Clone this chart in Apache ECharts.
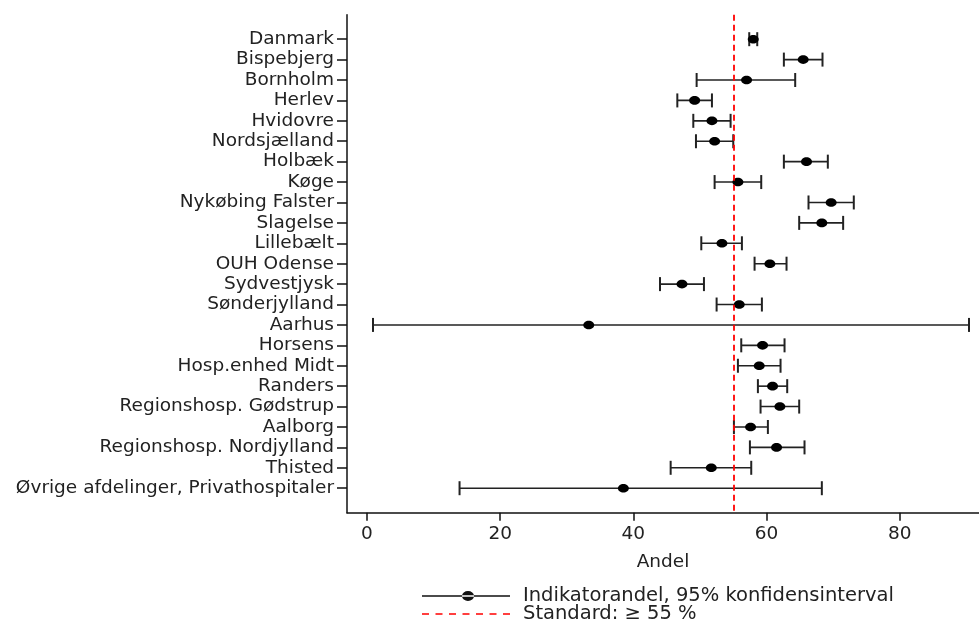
<!DOCTYPE html>
<html>
<head>
<meta charset="utf-8">
<script src="https://cdn.jsdelivr.net/npm/echarts@6/dist/echarts.min.js"></script>
<style>html,body{margin:0;padding:0;background:#fff}#c{width:979px;height:623px}</style>
</head>
<body>
<div id="c"></div>
<script>
const categories = ["Danmark","Bispebjerg","Bornholm","Herlev","Hvidovre","Nordsjælland","Holbæk","Køge","Nykøbing Falster","Slagelse","Lillebælt","OUH Odense","Sydvestjysk","Sønderjylland","Aarhus","Horsens","Hosp.enhed Midt","Randers","Regionshosp. Gødstrup","Aalborg","Regionshosp. Nordjylland","Thisted","Øvrige afdelinger, Privathospitaler"];
const shares = [58.0,65.5,57.0,49.2,51.8,52.2,66.0,55.7,69.7,68.3,53.3,60.5,47.3,55.9,33.3,59.4,58.9,60.9,62.0,57.6,61.5,51.7,38.5];
const lower  = [57.4,62.6,49.5,46.6,49.0,49.4,62.6,52.2,66.3,64.9,50.2,58.2,44.0,52.5,0.9,56.2,55.7,58.7,59.1,55.1,57.5,45.6,13.9];
const upper  = [58.6,68.4,64.3,51.8,54.6,55.0,69.2,59.2,73.1,71.5,56.3,63.0,50.6,59.3,90.4,62.7,62.1,63.1,64.9,60.2,65.7,57.7,68.3];
const standard = 55;
const xTicks = [0,20,40,60,80];
const seriesName = "Indikatorandel, 95% konfidensinterval";
const standardName = "Standard: ≥ 55 %";

const data = categories.map((c,i)=>[i, lower[i], shares[i], upper[i]]);
const idx = categories.map((c,i)=>i);

const chart = echarts.init(document.getElementById('c'), null, {renderer:'canvas'});
const FONT = 'DejaVu Sans';
const legendText = {fontSize:19.5, color:'#222', padding:[0,0,0,8], fontFamily:FONT};
chart.setOption({
  animation:false,
  textStyle:{fontFamily:FONT},
  grid:{left:347, right:0, top:14.7, bottom:110.3, containLabel:false, outerBoundsMode:'none'},
  xAxis:{
    type:'value', min:-3, max:91.9,
    axisLine:{show:true, onZero:false, lineStyle:{color:'#111', width:1.5}},
    axisTick:{show:true, length:8, lineStyle:{color:'#111', width:1.5}, customValues:xTicks},
    axisLabel:{customValues:xTicks, color:'#222', fontSize:18.5, margin:12, fontFamily:FONT},
    splitLine:{show:false},
    name:'Andel', nameLocation:'middle', nameGap:40,
    nameTextStyle:{fontSize:18.5, color:'#222', fontFamily:FONT}
  },
  yAxis:{
    type:'value', inverse:true, min:-1.2, max:23.2,
    axisLine:{show:true, onZero:false, lineStyle:{color:'#111', width:1.5}},
    axisTick:{show:true, length:10, lineStyle:{color:'#111', width:1.5}, customValues:idx},
    axisLabel:{customValues:idx, formatter:v=>categories[Math.round(v)], color:'#222', fontSize:18.5, margin:13, fontFamily:FONT},
    splitLine:{show:false}
  },
  legend:[
    {
      left:422, top:586, itemWidth:88, itemHeight:10, padding:0,
      textStyle:legendText, selectedMode:false,
      data:[{name:seriesName, icon:'path://M0,4.3L88,4.3L88,5.7L0,5.7Z M40,5A6,5 0 1,0 52,5A6,5 0 1,0 40,5Z', itemStyle:{color:'#111'}}]
    },
    {
      left:422, top:604, itemWidth:88, itemHeight:1.6, padding:0,
      textStyle:legendText, selectedMode:false,
      data:[{name:standardName, icon:'path://M0,0h7v1.6h-7Z M13.5,0h7v1.6h-7Z M27,0h7v1.6h-7Z M40.5,0h7v1.6h-7Z M54,0h7v1.6h-7Z M67.5,0h7v1.6h-7Z M81,0h7v1.6h-7Z', itemStyle:{color:'#ff0000'}}]
    }
  ],
  series:[
    {
      name:seriesName, type:'custom', data:data,
      encode:{x:[1,2,3], y:0},
      itemStyle:{color:'#111'},
      renderItem:(params, api)=>{
        const y = api.value(0);
        const a = api.coord([api.value(1), y]);
        const p = api.coord([api.value(2), y]);
        const b = api.coord([api.value(3), y]);
        const h = 7;
        const ls = {stroke:'#222', lineWidth:1.6};
        return {type:'group', children:[
          {type:'line', shape:{x1:a[0], y1:a[1], x2:b[0], y2:b[1]}, style:ls},
          {type:'line', shape:{x1:a[0], y1:a[1]-h, x2:a[0], y2:a[1]+h}, style:{stroke:'#222', lineWidth:2}},
          {type:'line', shape:{x1:b[0], y1:b[1]-h, x2:b[0], y2:b[1]+h}, style:{stroke:'#222', lineWidth:2}},
          {type:'ellipse', shape:{cx:p[0], cy:p[1], rx:5.5, ry:4.3}, style:{fill:'#000'}}
        ]};
      }
    },
    {
      name:standardName, type:'line', data:[], symbol:'none',
      lineStyle:{color:'#ff0000', type:[6,4], width:1.5},
      itemStyle:{color:'#ff0000'},
      markLine:{
        silent:true, symbol:['none','none'], label:{show:false},
        lineStyle:{color:'#ff0000', type:[6,4], width:1.8},
        data:[{xAxis:standard}]
      }
    }
  ]
});
</script>
</body>
</html>
